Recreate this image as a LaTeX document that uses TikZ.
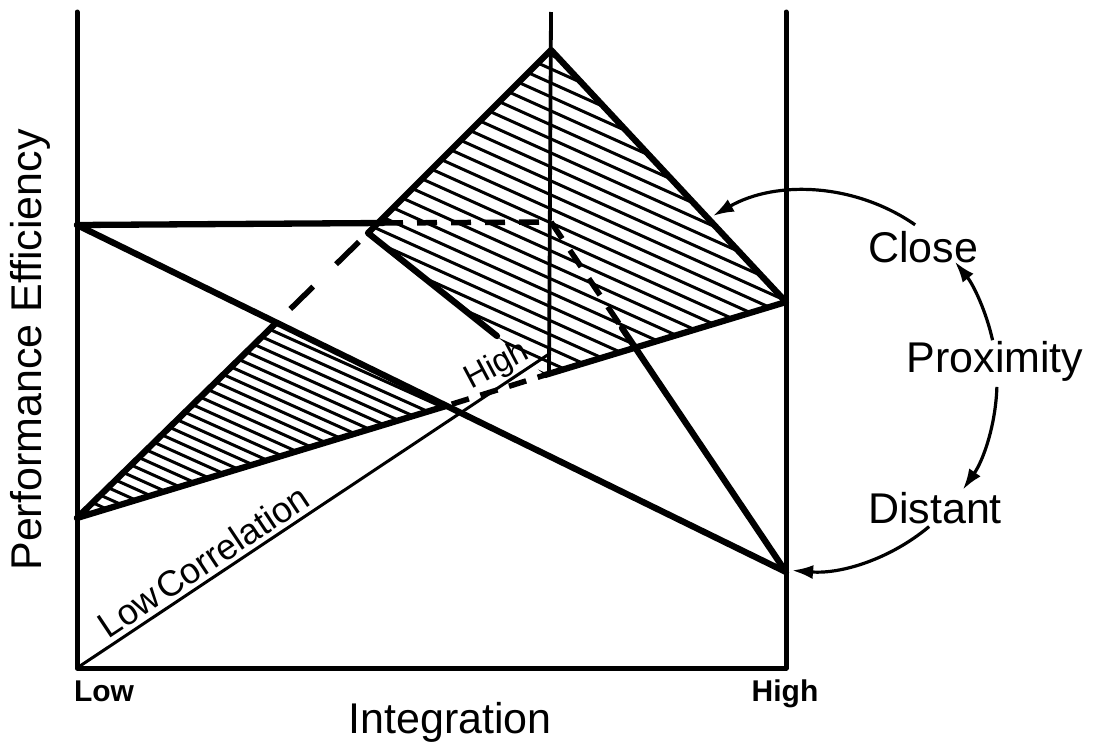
\documentclass[tikz,border=0pt]{standalone}
\usepackage{fontspec}
\setmainfont{Liberation Sans}
\usetikzlibrary{arrows.meta,calc}
\begin{document}
\begin{tikzpicture}[x=1pt,y=-1pt,
  axisln/.style={line width=5pt,line cap=round,line join=round},
  thickln/.style={line width=6.3pt,line cap=round,line join=round},
  dashln/.style={line width=5.5pt,dash pattern=on 20pt off 14pt},
  thinln/.style={line width=3pt,line cap=round},
  hatchln/.style={line width=3pt},
  curvarrow/.style={line width=3.2pt,-{Latex[length=21pt,width=14pt]}},
  lbl/.style={font=\fontsize{43}{43}\selectfont,inner sep=0pt},
  blbl/.style={font=\fontsize{30}{30}\selectfont\bfseries,inner sep=0pt}]
\useasboundingbox (0,0) rectangle (1096,750);
% key points (pixel coordinates, y downwards)
\coordinate (O) at (77,668);
\coordinate (YT) at (77,12);
\coordinate (XR) at (786,668);
\coordinate (RT) at (786,12);
\coordinate (MT) at (551,12);
\coordinate (MB) at (549,372);
\coordinate (H0) at (77,225);
\coordinate (Lend) at (786,572);
\coordinate (P1) at (77,518);
\coordinate (R) at (786,302);
\coordinate (P2) at (276,323);
\coordinate (P3) at (446,406);
\coordinate (Q) at (368,233);
\coordinate (T) at (551,50);
\coordinate (B) at (545,375);
\coordinate (HQ) at (383,223);
\coordinate (M) at (551,222);
\coordinate (DM) at (622,328);
\coordinate (QE) at (497,336);
\coordinate (TL) at (549,354);
\coordinate (C0) at (807,381);
% hatching, upper region
\begin{scope}
  \clip (Q) -- (T) -- (R) -- (B) -- cycle;
  \foreach \c in {-170,-156,...,346} \draw[hatchln] (300,\c) -- (800,\c+225);
\end{scope}
% hatching, lower region
\begin{scope}
  \clip (P1) -- (P2) -- (P3) -- cycle;
  \foreach \c in {147,158,...,515} \draw[hatchln] (60,\c) -- (460,\c+180);
\end{scope}
% axes and verticals
\draw[axisln] (YT) -- (O) -- (XR) -- (RT);
\draw[line width=3.8pt] (MT) -- (MB);
% thin low-correlation line
\draw[thinln] (O) -- node[pos=0.29, sloped, above, inner sep=4pt, font=\fontsize{36}{36}\selectfont] (lowcorr) {Low\kern0.08em Correlation} (TL);
% main lines
\draw[thickln] (H0) -- (Lend);
\draw[thickln] (H0) -- (HQ);
\draw[dashln] (HQ) -- (M);
\draw[dashln] (M) -- (DM);
\draw[thickln] (DM) -- (Lend);
\draw[thickln] (P1) -- (P2);
\draw[line width=5.5pt, dash pattern=on 32pt off 32pt, dash phase=44pt] (P2) -- (Q);
\draw[thickln] (P1) -- (P3);
\draw[line width=5.5pt, dash pattern=on 18pt off 12pt, dash phase=24pt] (P3) -- (B);
\draw[thickln] (B) -- (R) -- (T) -- (Q) -- (QE);
% labels
\node[font=\fontsize{33}{33}\selectfont, rotate=28, inner sep=0pt] (highmid) at (497,366) {High};
\node[lbl, rotate=90, anchor=base] (ylab) at (41,350) {Performance Efficiency};
\node[lbl, anchor=base] (xlab) at (450,733) {Integration};
\node[blbl, anchor=base] (low) at (104,701) {Low};
\node[blbl, anchor=base] (high) at (785,701) {High};
\node[lbl, anchor=base] (close) at (923,262) {Close};
\node[lbl, anchor=base] (prox) at (995,372) {Proximity};
\node[lbl, anchor=base] (dist) at (935,523) {Distant};
% proximity arrows on a circle
\coordinate (a1) at ($(C0)+(-55.3:190)$);
\coordinate (a2) at ($(C0)+(-12.4:190)$);
\coordinate (a3) at ($(C0)+(1.8:190)$);
\coordinate (a4) at ($(C0)+(50:190)$);
\draw[curvarrow] (a1) arc[start angle=-55.3, end angle=-119.7, radius=190];
\draw[curvarrow] (a2) arc[start angle=-12.4, end angle=-38.9, radius=190];
\draw[curvarrow] (a3) arc[start angle=1.8, end angle=34.9, radius=190];
\draw[curvarrow] (a4) arc[start angle=50, end angle=94.5, radius=190];
\end{tikzpicture}
\end{document}
